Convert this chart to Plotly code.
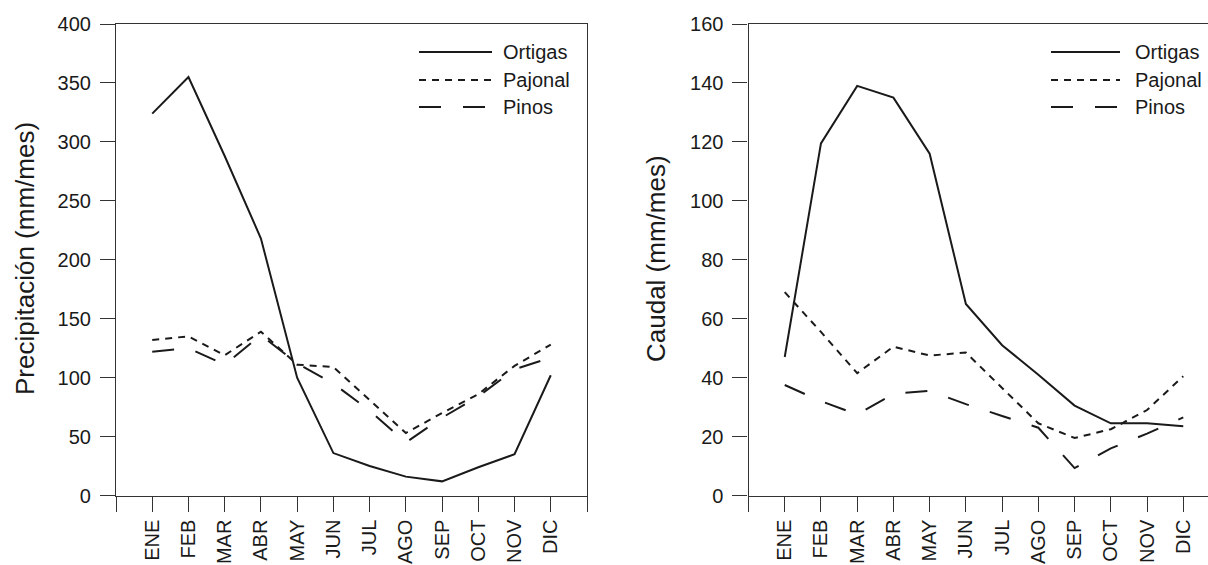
import plotly.graph_objects as go

months = ["ENE", "FEB", "MAR", "ABR", "MAY", "JUN", "JUL", "AGO", "SEP", "OCT", "NOV", "DIC"]
series_names = ["Ortigas", "Pajonal", "Pinos"]

precip_ortigas = [324, 355, 288, 218, 100, 36, 25, 16, 12, 24, 35, 102]
precip_pajonal = [132, 135, 119, 139, 111, 109, 81, 53, 70, 86, 110, 128]
precip_pinos = [122, 125, 111, 136, 112, 95, 72, 45, 66, 84, 107, 117]

caudal_ortigas = [47, 119.5, 139, 135, 116, 65, 51, 41, 30.5, 24.5, 24.5, 23.5]
caudal_pajonal = [69, 55.5, 41.5, 50.5, 47.5, 48.5, 36.5, 24.5, 19.5, 22.5, 29, 40.5]
caudal_pinos = [37.5, 32, 27.5, 34.5, 35.5, 31, 27, 23, 9.3, 16, 21, 26.5]

precip_ticks = [0, 50, 100, 150, 200, 250, 300, 350, 400]
caudal_ticks = [0, 20, 40, 60, 80, 100, 120, 140, 160]

# the figure is slightly wider than the window: the right frame of the
# second panel falls just outside the visible area, as in the reference
W, H = 1222, 565


def px(x):
    return x / W


def py(y):
    return (H - y) / H


FONT = "Liberation Sans, Arial, sans-serif"
INK = "#1a1a1a"
AX = "#333333"
dashes = {"Ortigas": "solid", "Pajonal": "7px,6px", "Pinos": "22px,22px"}

xpos = list(range(len(months)))

fig = go.Figure()
for name, vals in zip(series_names, [precip_ortigas, precip_pajonal, precip_pinos]):
    fig.add_trace(go.Scatter(x=xpos, y=vals, mode="lines", name=name, showlegend=False,
                             line=dict(color=INK, width=2, dash=dashes[name]),
                             xaxis="x", yaxis="y"))
for name, vals in zip(series_names, [caudal_ortigas, caudal_pajonal, caudal_pinos]):
    fig.add_trace(go.Scatter(x=xpos, y=vals, mode="lines", name=name, showlegend=False,
                             line=dict(color=INK, width=2, dash=dashes[name]),
                             xaxis="x2", yaxis="y2"))

ydom = [py(495.5), py(24)]
d1 = [px(116), px(587)]
d2 = [px(748.5), px(1219.5)]

xtickvals = [-1] + xpos + [len(months)]
xticktext = [""] + months + [""]

common_x = dict(tickmode="array", tickangle=-90, ticks="outside", ticklen=15, tickwidth=1.2,
                tickcolor=AX, showline=True, linecolor=AX, linewidth=1.2, mirror=True,
                showgrid=False, zeroline=False, tickfont=dict(family=FONT, size=20, color=INK),
                automargin=False, tickvals=xtickvals, ticktext=xticktext, range=[-1, 12])
common_y = dict(tickmode="array", ticks="outside", ticklen=15, tickwidth=1.2, tickcolor=AX,
                showline=True, linecolor=AX, linewidth=1.2, showgrid=False, zeroline=False,
                mirror=True, ticklabelstandoff=5,
                tickfont=dict(family=FONT, size=20, color=INK), automargin=False)

fig.update_layout(
    width=W, height=H, margin=dict(l=0, r=0, t=0, b=0),
    paper_bgcolor="white", plot_bgcolor="white", showlegend=False,
    xaxis=dict(domain=d1, anchor="y", **common_x),
    yaxis=dict(domain=ydom, range=[0, 400], tickvals=precip_ticks, anchor="x", **common_y),
    xaxis2=dict(domain=d2, anchor="y2", **common_x),
    yaxis2=dict(domain=ydom, range=[0, 160], tickvals=caudal_ticks, anchor="x2", **common_y),
)

# axis titles
fig.add_annotation(x=px(25), y=py(259), xref="paper", yref="paper", text="Precipitación (mm/mes)",
                   textangle=-90, showarrow=False, font=dict(family=FONT, size=26, color=INK),
                   xanchor="center", yanchor="middle")
fig.add_annotation(x=px(656), y=py(259), xref="paper", yref="paper", text="Caudal (mm/mes)",
                   textangle=-90, showarrow=False, font=dict(family=FONT, size=26, color=INK),
                   xanchor="center", yanchor="middle")

# custom legends
legend_cfg = [(419, 492, 501), (1051, 1120, 1133)]
rows_y = [52, 80, 107]
for (lx0, lx1, tx) in legend_cfg:
    for name, ry in zip(series_names, rows_y):
        fig.add_shape(type="line", xref="paper", yref="paper", x0=px(lx0), x1=px(lx1),
                      y0=py(ry), y1=py(ry),
                      line=dict(color=INK, width=2, dash=dashes[name]))
        fig.add_annotation(x=px(tx), y=py(ry), xref="paper", yref="paper", text=name,
                           showarrow=False, xanchor="left", yanchor="middle",
                           font=dict(family=FONT, size=20, color=INK))

fig.write_html(
    "out.html",
    config={"displayModeBar": False},
    post_script="document.body.style.margin='0';document.body.style.overflow='hidden';",
)
